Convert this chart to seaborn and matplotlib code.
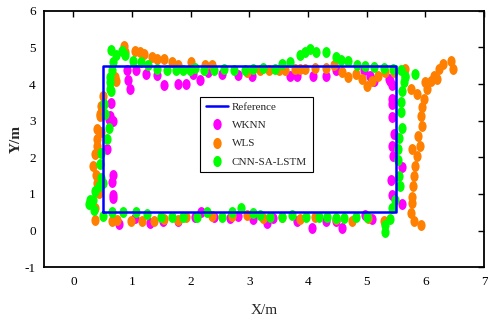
import numpy as np
import pandas as pd
import matplotlib
matplotlib.use("Agg")
import matplotlib.pyplot as plt
from matplotlib.path import Path
from matplotlib.transforms import Affine2D
from matplotlib.lines import Line2D
import seaborn as sns

# ---- data ----
ref_x = [0.5, 5.5, 5.5, 0.5, 0.5]
ref_y = [0.5, 0.5, 4.5, 4.5, 0.5]

wknn_x = [0.91, 0.94, 0.96, 1.07, 1.24, 1.42, 1.55, 1.79, 1.92, 2.04, 2.16, 2.29, 2.53,
          2.81, 3.05, 3.70, 3.82, 4.08, 4.30, 4.47, 4.95, 5.06, 5.13, 5.38,
          5.40, 5.44, 5.43, 5.44, 5.44, 5.47, 5.44, 5.45, 5.61, 5.42, 5.44, 5.60,
          5.09, 4.98, 4.58, 4.47, 4.30, 4.07, 3.81, 3.41, 3.30, 3.07, 2.80, 2.67,
          2.39, 2.17, 2.08, 1.79, 1.53, 1.30, 1.05, 0.78,
          0.68, 0.68, 0.66, 0.68, 0.58, 0.68, 0.63, 0.64, 0.61]
wknn_y = [4.37, 4.12, 3.87, 4.39, 4.26, 4.25, 3.98, 4.00, 4.00, 4.26, 4.12, 4.32, 4.26,
          4.25, 4.23, 4.23, 4.23, 4.23, 4.23, 4.37, 4.37, 4.23, 4.09, 4.14,
          4.09, 3.96, 3.59, 3.45, 3.09, 2.63, 2.31, 2.03, 1.74, 1.39, 0.96, 0.73,
          0.31, 0.43, 0.07, 0.27, 0.25, 0.08, 0.25, 0.34, 0.20, 0.32, 0.41, 0.34,
          0.38, 0.52, 0.38, 0.27, 0.25, 0.22, 0.34, 0.18,
          0.88, 0.98, 1.32, 1.53, 2.22, 2.99, 3.13, 3.47, 3.04]

wls_x = [0.37, 0.66, 0.75, 0.98, 1.17, 1.38, 1.54, 1.79, 1.92, 2.36, 2.70, 2.96,
         3.24, 3.56, 3.87, 4.12, 4.47, 4.75, 5.03, 5.29,
         5.75, 5.80, 5.92, 5.78, 5.78, 5.79, 5.80, 5.83, 5.86, 5.78, 5.91, 5.87,
         5.95, 5.92, 5.95, 5.97, 6.03, 6.09, 6.14, 6.23, 6.30, 6.43, 6.48, 6.20, 6.00,
         5.86, 5.75, 5.66, 5.46, 5.32, 5.20, 5.09, 5.01, 4.92, 4.81, 4.69, 4.58,
         4.44, 4.30, 4.12, 3.95, 3.87, 3.78, 3.61, 3.50, 3.33, 3.19, 2.96,
         2.36, 2.25, 2.00, 1.79, 1.68, 1.55, 1.42, 1.34, 1.21, 1.14, 1.05, 0.88, 0.87,
         0.73, 0.71, 0.51, 0.48, 0.46, 0.40, 0.41, 0.40, 0.37, 0.34, 0.39, 0.41,
         0.43, 0.37, 0.48, 0.46]
wls_y = [0.29, 0.27, 0.29, 0.27, 0.27, 0.25, 0.32, 0.29, 0.36, 0.41, 0.41, 0.43,
         0.34, 0.36, 0.32, 0.36, 0.32, 0.27, 0.34, 0.25,
         0.48, 0.25, 0.16, 0.75, 0.93, 1.21, 1.48, 1.76, 2.03, 2.22, 2.31, 2.58,
         2.86, 3.13, 3.36, 3.59, 3.87, 4.09, 4.23, 4.41, 4.55, 4.64, 4.41, 4.14, 4.05,
         3.73, 3.87, 4.40, 4.34, 4.34, 4.23, 4.09, 3.94, 4.14, 4.28, 4.19, 4.34,
         4.52, 4.43, 4.44, 4.41, 4.41, 4.41, 4.37, 4.37, 4.37, 4.37, 4.34,
         4.51, 4.51, 4.60, 4.51, 4.60, 4.67, 4.69, 4.74, 4.83, 4.87, 4.89, 4.88, 5.05,
         4.09, 4.19, 3.68, 3.41, 3.13, 2.77, 2.49, 2.31, 2.08, 1.76, 1.53, 1.30,
         1.03, 0.62, 2.68, 3.18]

cnn_x = [0.64, 0.73, 0.83, 0.88, 0.68, 0.66, 0.63, 0.63, 0.63, 1.02, 1.16, 1.28,
         1.42, 1.59, 1.75, 1.87, 1.99, 2.08, 2.23, 2.40, 2.56, 2.74, 2.93, 3.07,
         3.23, 3.43, 3.56, 3.69, 3.86, 3.95, 4.04, 4.14, 4.30, 4.47, 4.56, 4.68,
         4.84, 4.98, 5.13, 5.29, 5.45, 5.58, 5.66, 5.83,
         5.66, 5.63, 5.61, 5.58, 5.59, 5.60, 5.55, 5.53, 5.53, 5.55, 5.56, 5.49,
         5.43, 5.40, 5.32, 5.32,
         5.00, 4.81, 4.62, 4.48, 4.32, 4.18, 3.97, 3.73, 3.56, 3.36, 3.19, 3.07,
         2.86, 2.70, 2.53, 2.28, 2.11, 1.87, 1.68, 1.50, 1.26, 1.07, 0.85, 0.66,
         0.51, 0.35, 0.34, 0.26, 0.28, 0.37, 0.44, 0.48, 0.51, 0.46, 0.48, 0.57,
         0.60, 0.54, 0.52, 0.64]
cnn_y = [4.92, 4.78, 4.89, 4.78, 4.60, 4.37, 4.19, 4.05, 3.87, 4.62, 4.60, 4.51,
         4.40, 4.37, 4.37, 4.37, 4.37, 4.43, 4.37, 4.37, 4.40, 4.37, 4.37, 4.40,
         4.43, 4.41, 4.55, 4.60, 4.78, 4.87, 4.96, 4.87, 4.87, 4.74, 4.65, 4.62,
         4.52, 4.49, 4.46, 4.43, 4.40, 4.37, 4.19, 4.28,
         4.23, 4.05, 3.82, 3.50, 3.23, 2.81, 2.54, 2.22, 1.94, 1.48, 1.21, 0.84,
         0.62, 0.32, 0.16, -0.03,
         0.36, 0.36, 0.34, 0.34, 0.38, 0.36, 0.36, 0.43, 0.38, 0.38, 0.43, 0.48,
         0.62, 0.52, 0.38, 0.52, 0.38, 0.38, 0.36, 0.38, 0.45, 0.50, 0.50, 0.50,
         0.41, 0.57, 0.84, 0.73, 0.84, 1.07, 1.21, 1.44, 1.30, 1.81, 2.13, 2.49,
         2.81, 3.18, 3.45, 3.82]

x_ticks = [0, 1, 2, 3, 4, 5, 6, 7]
y_ticks = [-1, 0, 1, 2, 3, 4, 5, 6]

# ---- figure ----
sns.set_theme(style="white")
plt.rcParams["font.family"] = ["Liberation Serif", "DejaVu Serif"]

fig = plt.figure(figsize=(4.88, 3.2), dpi=100)
ax = fig.add_axes([44 / 488, 1 - 267.3 / 320, 440 / 488, 256.6 / 320])

ell = Affine2D().scale(0.75, 1.0).transform_path(Path.unit_circle())

colors = {"WKNN": "#ff00ff", "WLS": "#ff8000", "CNN-SA-LSTM": "#00ff00"}
df = pd.concat([
    pd.DataFrame({"x": wknn_x, "y": wknn_y, "method": "WKNN"}),
    pd.DataFrame({"x": wls_x, "y": wls_y, "method": "WLS"}),
    pd.DataFrame({"x": cnn_x, "y": cnn_y, "method": "CNN-SA-LSTM"}),
], ignore_index=True)

for m in ["WKNN", "WLS", "CNN-SA-LSTM"]:
    sub = df[df["method"] == m]
    sns.scatterplot(data=sub, x="x", y="y", color=colors[m], marker=ell, s=62,
                    linewidth=0, ax=ax, legend=False, zorder=2)

ref_df = pd.DataFrame({"x": ref_x, "y": ref_y})
sns.lineplot(data=ref_df, x="x", y="y", sort=False, estimator=None,
             color="#0000ff", linewidth=1.8, ax=ax, zorder=3)

ax.set_xlim(-0.5, 7)
ax.set_ylim(-1, 6)
ax.set_xticks(x_ticks)
ax.set_yticks(y_ticks)
ax.set_xticklabels([str(t) for t in x_ticks])
ax.set_yticklabels([str(t) for t in y_ticks])
ax.tick_params(direction="in", length=4, width=1, top=True, right=True,
               labelsize=9.5, colors="black", pad=6)
for sp in ax.spines.values():
    sp.set_visible(True)
    sp.set_color("black")
    sp.set_linewidth(1.3)
ax.set_xlabel("X/m", fontsize=11, labelpad=12)
ax.set_ylabel("Y/m", fontsize=11, fontweight="bold", labelpad=1)

handles = [
    Line2D([], [], color="#0000ff", linewidth=1.8, label="Reference"),
    Line2D([], [], linestyle="none", marker=ell, markersize=8, color="#ff00ff",
           markeredgewidth=0, label="WKNN"),
    Line2D([], [], linestyle="none", marker=ell, markersize=8, color="#ff8000",
           markeredgewidth=0, label="WLS"),
    Line2D([], [], linestyle="none", marker=ell, markersize=8, color="#00ff00",
           markeredgewidth=0, label="CNN-SA-LSTM"),
]
leg = ax.legend(handles=handles, loc="upper left", bbox_to_anchor=(0.355, 0.664),
                fontsize=8, frameon=True, fancybox=False, framealpha=1,
                edgecolor="black", handlelength=2.0, handletextpad=0.35,
                borderpad=0.5, labelspacing=0.75, borderaxespad=0)
leg.get_frame().set_linewidth(0.8)

fig.savefig("out.png", dpi=100, facecolor="white")
